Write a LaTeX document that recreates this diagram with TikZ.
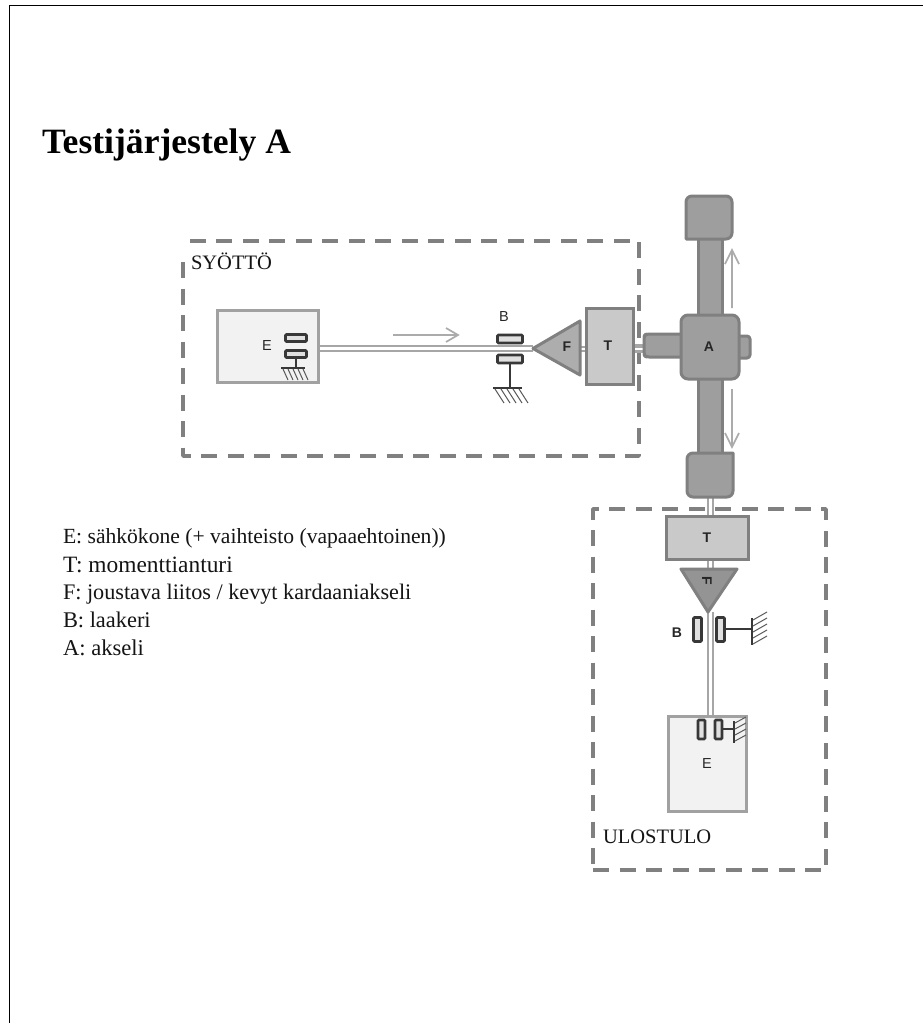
\documentclass[tikz,border=0pt]{standalone}
\usepackage{fontspec}
\setmainfont{Liberation Serif}
\setsansfont{Liberation Sans}
\begin{document}
\begin{tikzpicture}[x=1pt,y=-1pt,
  txt/.style={anchor=base west,inner sep=0pt,outer sep=0pt,font=\fontsize{#1}{24}\selectfont,text=black!92},
  frametxt/.style={txt=20.5},
  lab/.style={inner sep=0pt,outer sep=0pt,font=\sffamily\fontsize{14.5}{15}\selectfont,text=black!85},
  blab/.style={lab,font=\sffamily\bfseries\fontsize{14}{15}\selectfont},
  dashbox/.style={draw=black!50,line width=3.5pt,dash pattern=on 16pt off 10.5pt,line join=round},
  solidbox/.style={inner sep=0pt,outer sep=0pt,draw=black!50,line width=3pt},
  motor/.style={solidbox,fill=black!5,draw=black!37},
  sensor/.style={solidbox,fill=black!21,draw=black!50},
  body/.style={draw=black!50,fill=black!38,line width=3pt,line join=round},
  joint/.style={draw=black!50,fill=black!32,line width=3pt,line join=round},
  bearing/.style={inner sep=0pt,outer sep=0pt,draw=black!78,fill=black!12,line width=2.8pt,rounded corners=1pt},
  shaft/.style={draw=black!35,line width=7.5pt},
  shaftcore/.style={draw=white,line width=2.4pt},
  support/.style={draw=black!78,line width=2.6pt},
  hatch/.style={draw=black!65,line width=1pt},
  motion/.style={draw=black!33,line width=1.7pt}]
\useasboundingbox (0,0) rectangle (923,1023);
\fill[white] (0,0) rectangle (923,1023);
\draw[black,line width=1.4pt] (9.6,1023) -- (9.6,5.3) -- (923,5.3);

\node[anchor=base west,inner sep=0pt,font=\bfseries\fontsize{35.6}{40}\selectfont] (title) at (42,153) {Testijärjestely A};

% dashed frames
\draw[dashbox] (183,262) -- (183,456) -- (639,456) -- (639,241) -- (183,241);
\draw[dashbox] (593,870) -- (826,870) -- (826,509) -- (593,509) -- (593,870);
\node[frametxt] (syotto) at (191,269) {SYÖTTÖ};
\node[frametxt] (ulostulo) at (603,843) {ULOSTULO};

% legend
\node[txt=21.6] (l1) at (63,543) {E: sähkökone (+ vaihteisto (vapaaehtoinen))};
\node[txt=23.4] (l2) at (63,572) {T: momenttianturi};
\node[txt=22.2] (l3) at (63,599) {F: joustava liitos / kevyt kardaaniakseli};
\node[txt=22.4] (l4) at (63,627) {B: laakeri};
\node[txt=22.6] (l5) at (63,655) {A: akseli};

% named boxes (placed first so that shafts can refer to them)
\node[motor,minimum width=101pt,minimum height=72pt] (E1) at (267.5,346) {};
\node[sensor,minimum width=47pt,minimum height=76pt] (T1) at (609.5,346) {};
\node[motor,minimum width=78pt,minimum height=95pt] (E2) at (707,763.5) {};
\node[sensor,minimum width=82pt,minimum height=43pt] (T2) at (707,537.5) {};
\coordinate (F1tip) at (533,348.5);
\coordinate (F1top) at (580,321);
\coordinate (F1bot) at (580,375);
\coordinate (F1base) at (580,348.5);
\coordinate (F2tip) at (708,612);
\coordinate (F2l) at (681,569);
\coordinate (F2r) at (737,569);
\coordinate (F2base) at (710.5,569);
\coordinate (capbot) at (710.5,497);
\coordinate (stubW) at (644,348.5);

% shafts
\draw[shaft] (E1.east |- F1base) -- (F1tip);
\draw[shaftcore] (E1.east |- F1base) -- (F1tip);
\draw[shaft,line width=6pt] (F1base) -- (T1.west |- F1base);
\draw[shaftcore,line width=2pt] (F1base) -- (T1.west |- F1base);
\draw[shaft,line width=9pt] (T1.east |- stubW) -- (stubW);
\draw[shaftcore,line width=2pt] (T1.east |- stubW) -- (stubW);
\draw[shaft] (capbot) -- (T2.north -| capbot);
\draw[shaftcore] (capbot) -- (T2.north -| capbot);
\draw[shaft] (T2.south -| F2base) -- (F2base);
\draw[shaftcore] (T2.south -| F2base) -- (F2base);
\draw[shaft] (F2base |- F2tip) -- (E2.north -| F2base);
\draw[shaftcore] (F2base |- F2tip) -- (E2.north -| F2base);

% redraw boxes on top
\node[motor,minimum width=101pt,minimum height=72pt] at (267.5,346) {};
\node[sensor,minimum width=47pt,minimum height=76pt] at (609.5,346) {};
\node[motor,minimum width=78pt,minimum height=95pt] at (707,763.5) {};
\node[sensor,minimum width=82pt,minimum height=43pt] at (707,537.5) {};
\node[blab] (Tl1) at (608,346) {T};
\node[blab] (Tl2) at (707,538) {T};
\node[lab] (El1) at (267,346) {E};
\node[lab] (El2) at (707,764) {E};

% joints
\draw[joint] (F1tip) -- (F1top) -- (F1bot) -- cycle;
\node[blab] (Fl1) at (567,347) {F};
\draw[joint,fill=black!42] (F2l) -- (F2r) -- (F2tip) -- cycle;
\begin{scope}
\clip (695,572) rectangle (720,584);
\node[blab,rotate=-90] (Fl2) at (707,581) {F};
\end{scope}

% large axle
\draw[body] (698,238) rectangle (722,316);
\draw[body] (698,378) rectangle (722,454);
\draw[body] (686,239) [rounded corners=6pt] -- (686,196) -- (732,196) -- (732,239) [sharp corners] -- cycle;
\draw[body] (733,453) [rounded corners=6pt] -- (733,497) -- (687,497) -- (687,453) [sharp corners] -- cycle;
\draw[body,rounded corners=3pt] (684,334) -- (646,334) -- (644,336) -- (644,355) -- (646,357) -- (684,357);
\draw[body,rounded corners=3pt] (736,336) -- (750,336) -- (750,358) -- (736,358) -- cycle;
\node[body,inner sep=0pt,outer sep=0pt,minimum width=58pt,minimum height=64pt,rounded corners=7pt] (A) at (710,347) {};
\node[blab] (Al) at (709,347) {A};

% motion arrows
\coordinate (m1a) at (393,335); \coordinate (m1b) at (458,335);
\draw[motion] (m1a) -- (m1b) (446,328) -- (m1b) -- (446,342);
\coordinate (m2a) at (732,308); \coordinate (m2b) at (732,250);
\draw[motion] (m2a) -- (m2b) (725,264) -- (m2b) -- (739,264);
\coordinate (m3a) at (732,389); \coordinate (m3b) at (732,447);
\draw[motion] (m3a) -- (m3b) (725,433) -- (m3b) -- (739,433);

% bearings: input motor
\node[bearing,minimum width=21pt,minimum height=7pt] (b1) at (296,338) {};
\node[bearing,minimum width=21pt,minimum height=7pt] (b2) at (296,354) {};
\coordinate (g1) at (296,368);
\draw[support] (b2.south) -- (g1);
\draw[support] (281,368) -- (305,368);
\foreach \x in {283,288,293,298,303} \draw[hatch] (\x,369) -- (\x+5,380);

% bearings: input B
\node[bearing,minimum width=25pt,minimum height=8pt] (b3) at (510,339) {};
\node[bearing,minimum width=25pt,minimum height=8pt] (b4) at (510,359) {};
\coordinate (g2) at (510,388);
\draw[support] (b4.south) -- (g2);
\draw[support] (493,388) -- (522,388);
\foreach \x in {495,501,507,513,519} \draw[hatch] (\x,389) -- (\x+9,403);
\node[lab] (Bl1) at (504,317) {B};

% bearings: output B
\node[bearing,minimum width=8pt,minimum height=24pt] (b5) at (697.5,629.5) {};
\node[bearing,minimum width=8pt,minimum height=24pt] (b6) at (720.5,629.5) {};
\coordinate (g3) at (752,629);
\draw[support] (b6.east |- g3) -- (g3);
\draw[support] (752,618) -- (752,645);
\foreach \y in {620,626,632,638,644} \draw[hatch] (753,\y) -- (767,\y-8);
\node[blab] (Bl2) at (677,633) {B};

% bearings: output motor
\node[bearing,minimum width=7pt,minimum height=19pt] (b7) at (701.5,729.5) {};
\node[bearing,minimum width=7pt,minimum height=19pt] (b8) at (718.5,729.5) {};
\coordinate (g4) at (734,729);
\draw[support] (b8.east |- g4) -- (g4);
\draw[support] (734,721) -- (734,743);
\foreach \y in {723,729,735,741} \draw[hatch] (735,\y) -- (746,\y-6);
\end{tikzpicture}
\end{document}
